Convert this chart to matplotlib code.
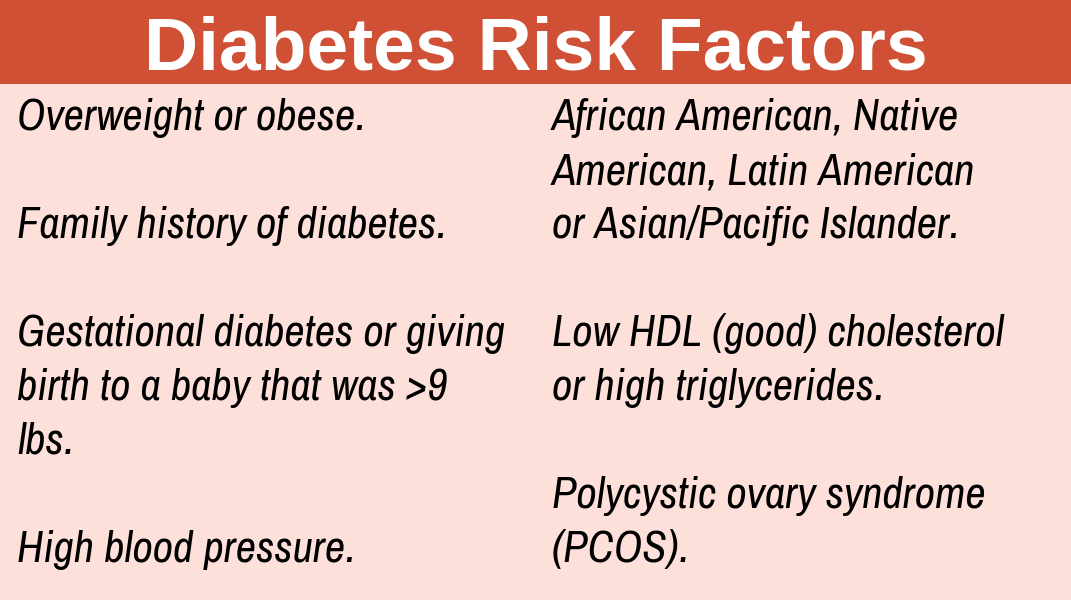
import matplotlib.pyplot as plt
from matplotlib.patches import Rectangle

title = "Diabetes Risk Factors"

# (row, text) - each row is one text line in the card
left_lines = [
    (0, "Overweight or obese."),
    (2, "Family history of diabetes."),
    (4, "Gestational diabetes or giving"),
    (5, "birth to a baby that was >9"),
    (6, "lbs."),
    (8, "High blood pressure."),
]
right_lines = [
    (0, "African American, Native"),
    (1, "American, Latin American"),
    (2, "or Asian/Pacific Islander."),
    (4, "Low HDL (good) cholesterol"),
    (5, "or high triglycerides."),
    (7, "Polycystic ovary syndrome"),
    (8, "(PCOS)."),
]

W, H = 1071, 600
header_color = "#CF5034"
bg_color = "#FEE0DB"

fig = plt.figure(figsize=(W / 100, H / 100), dpi=100)
fig.patch.set_facecolor(bg_color)
ax = fig.add_axes([0, 0, 1, 1])
ax.set_xlim(0, W)
ax.set_ylim(H, 0)
ax.axis("off")

ax.add_patch(Rectangle((0, 0), W, 84, color=header_color, lw=0))
ax.text(W / 2, 70, title, ha="center", va="baseline", color="white",
        fontsize=54, fontweight="bold", family=["Liberation Sans", "DejaVu Sans"])

body_font = dict(fontsize=32, style="italic", color="black",
                 family=["Archivo Narrow", "DejaVu Sans"],
                 va="baseline", ha="left")

first_baseline = 130
row_step = 54
for row, txt in left_lines:
    ax.text(17, first_baseline + row * row_step, txt, **body_font)
for row, txt in right_lines:
    ax.text(552, first_baseline + row * row_step, txt, **body_font)

fig.savefig("out.png", dpi=100, facecolor=fig.get_facecolor())
